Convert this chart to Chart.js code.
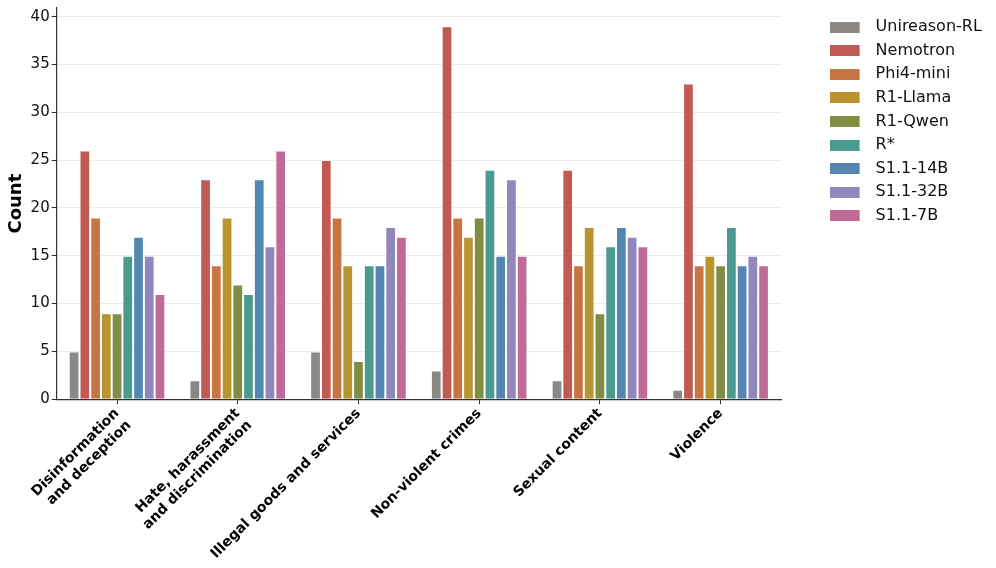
<!DOCTYPE html>
<html>
<head>
<meta charset="utf-8">
<script src="https://cdn.jsdelivr.net/npm/chart.js@4"></script>
<style>
  html, body { margin: 0; padding: 0; background: #fff; }
  #wrap { width: 996px; height: 568px; }
</style>
</head>
<body>
<div id="wrap"><canvas id="chart_1"></canvas></div>
<script>
const categories = [
    ['Disinformation', 'and deception'],
    ['Hate, harassment', 'and discrimination'],
    'Illegal goods and services',
    'Non-violent crimes',
    'Sexual content',
    'Violence'
];
const models = ['Unireason-RL', 'Nemotron', 'Phi4-mini', 'R1-Llama', 'R1-Qwen', 'R*', 'S1.1-14B', 'S1.1-32B', 'S1.1-7B'];
const colors = ['#8a8784', '#c05a52', '#c77643', '#b8952f', '#818d45', '#4a9a90', '#5386b0', '#9088bd', '#c06b97'];
const yTicks = [0, 5, 10, 15, 20, 25, 30, 35, 40];

const unireasonRL = [5, 2, 5, 3, 2, 1];
const nemotron    = [26, 23, 25, 39, 24, 33];
const phi4Mini    = [19, 14, 19, 19, 14, 14];
const r1Llama     = [9, 19, 14, 17, 18, 15];
const r1Qwen      = [9, 12, 4, 19, 9, 14];
const rStar       = [15, 11, 14, 24, 16, 18];
const s11_14B     = [17, 23, 14, 15, 18, 14];
const s11_32B     = [15, 16, 18, 23, 17, 15];
const s11_7B      = [11, 26, 17, 15, 16, 14];

const series = [unireasonRL, nemotron, phi4Mini, r1Llama, r1Qwen, rStar, s11_14B, s11_32B, s11_7B];

// legend swatch: 30x11 box with transparent space after it, for the wider text gap
function swatch(color) {
    const c = document.createElement('canvas');
    c.width = 38;
    c.height = 11;
    const ctx = c.getContext('2d');
    ctx.fillStyle = color;
    ctx.fillRect(0, 0, 30, 11);
    return c;
}
const swatches = colors.map(swatch);

const data = {
    labels: categories,
    datasets: series.map((values, i) => ({
        label: models[i],
        data: values,
        backgroundColor: colors[i],
        borderColor: 'rgba(255,255,255,0.35)',
        borderWidth: 1,
        categoryPercentage: 0.8,
        barPercentage: 1.0
    }))
};

// keep a gap between plot and legend like the original
const legendGap = {
    id: 'legendGap',
    beforeInit(chart) {
        const fit = chart.legend.fit;
        chart.legend.fit = function () {
            fit.call(this);
            this.width = 215;
        };
    },
    afterLayout(chart) {
        chart.legend.left = 822;
        chart.legend.top = 11.5;
    }
};

new Chart(document.getElementById('chart_1'), {
    type: 'bar',
    data: data,
    plugins: [legendGap],
    options: {
        responsive: true,
        maintainAspectRatio: false,
        animation: false,
        layout: {
            padding: { top: 8, left: 2, right: 0, bottom: 0 }
        },
        plugins: {
            legend: {
                position: 'right',
                align: 'start',
                labels: {
                    usePointStyle: true,
                    pointStyleWidth: 38,
                    boxHeight: 11,
                    padding: 7.6,
                    color: '#111',
                    font: { family: 'DejaVu Sans', size: 16 },
                    generateLabels(chart) {
                        const items = Chart.defaults.plugins.legend.labels.generateLabels(chart);
                        items.forEach((it, i) => { it.pointStyle = swatches[i]; });
                        return items;
                    }
                }
            },
            tooltip: { enabled: false }
        },
        scales: {
            x: {
                afterFit(scale) {
                    // rotated labels are measured a bit too tall
                    scale.height -= 7;
                },
                grid: {
                    display: true,
                    offset: false,
                    drawOnChartArea: false,
                    tickLength: 5,
                    tickColor: '#333'
                },
                border: { color: '#333', width: 1.2 },
                ticks: {
                    maxRotation: 45,
                    minRotation: 45,
                    color: '#000',
                    font: { family: 'DejaVu Sans', size: 14, weight: 'bold' },
                    padding: 1
                }
            },
            y: {
                min: 0,
                max: 40.9,
                afterBuildTicks: (axis) => {
                    axis.ticks = yTicks.map(v => ({ value: v }));
                },
                afterFit(scale) {
                    scale.paddingTop = 0;
                },
                grid: {
                    color: '#ebebeb',
                    tickColor: '#333',
                    tickLength: 5
                },
                border: { color: '#333', width: 1.2 },
                ticks: {
                    color: '#111',
                    font: { family: 'DejaVu Sans', size: 15 },
                    padding: 2
                },
                title: {
                    display: true,
                    text: 'Count',
                    color: '#000',
                    font: { family: 'DejaVu Sans', size: 18, weight: 'bold' },
                    padding: { top: 4, bottom: 1 }
                }
            }
        }
    }
});
</script>
</body>
</html>
